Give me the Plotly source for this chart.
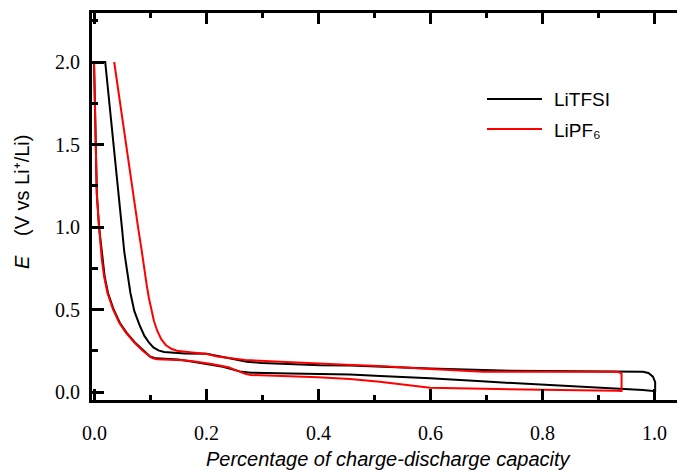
import plotly.graph_objects as go

# ---- data ----
# LiTFSI: closed charge/discharge loop (x = fraction of capacity, E in V vs Li+/Li)
litfsi_x = [0.0, 0.002, 0.005, 0.009, 0.012, 0.015, 0.019, 0.025, 0.035, 0.046, 0.058, 0.073,
            0.088, 0.1, 0.11, 0.13, 0.15, 0.177, 0.2, 0.23, 0.26, 0.28, 0.35, 0.404, 0.457,
            0.511, 0.55, 0.6, 0.7, 0.8, 0.933, 0.98, 1.002, 1.002, 0.998, 0.99, 0.98, 0.9,
            0.743, 0.6, 0.511, 0.457, 0.404, 0.35, 0.3, 0.273, 0.24, 0.201, 0.162, 0.139,
            0.125, 0.115, 0.106, 0.098, 0.09, 0.082, 0.072, 0.065, 0.058, 0.054, 0.05, 0.02,
            0.0]
litfsi_e = [2.0, 1.6, 1.2, 1.0, 0.9, 0.8, 0.7, 0.6, 0.5, 0.42, 0.36, 0.3, 0.25, 0.215, 0.204,
            0.2, 0.197, 0.184, 0.17, 0.153, 0.125, 0.117, 0.112, 0.109, 0.106, 0.097, 0.092,
            0.083, 0.063, 0.046, 0.022, 0.012, 0.005, 0.06, 0.093, 0.115, 0.123, 0.124, 0.129,
            0.142, 0.153, 0.16, 0.162, 0.168, 0.175, 0.184, 0.205, 0.232, 0.234, 0.237, 0.242,
            0.252, 0.27, 0.3, 0.34, 0.4, 0.49, 0.6, 0.75, 0.85, 0.99, 2.0, 2.0]

# LiPF6: open loop starting at 2.0 V on the left and ending at 2.0 V
lipf6_x = [0.0, 0.002, 0.005, 0.009, 0.011, 0.014, 0.018, 0.024, 0.034, 0.045, 0.057, 0.072,
           0.087, 0.097, 0.104, 0.112, 0.14, 0.16, 0.18, 0.21, 0.24, 0.27, 0.28, 0.4, 0.457,
           0.51, 0.6, 0.7, 0.8, 0.933, 0.942, 0.942, 0.938, 0.93, 0.8, 0.695, 0.6, 0.51, 0.45,
           0.4, 0.3, 0.27, 0.22, 0.2, 0.175, 0.16, 0.148, 0.138, 0.128, 0.12, 0.113, 0.107,
           0.102, 0.098, 0.094, 0.09, 0.085, 0.079, 0.036]
lipf6_e = [2.0, 1.6, 1.2, 1.0, 0.9, 0.8, 0.7, 0.6, 0.5, 0.42, 0.36, 0.3, 0.25, 0.22, 0.205,
           0.198, 0.195, 0.193, 0.185, 0.17, 0.15, 0.11, 0.103, 0.09, 0.079, 0.062, 0.026,
           0.018, 0.013, 0.008, 0.006, 0.11, 0.12, 0.123, 0.123, 0.123, 0.139, 0.158, 0.165,
           0.174, 0.19, 0.194, 0.215, 0.232, 0.24, 0.244, 0.25, 0.262, 0.285, 0.32, 0.37,
           0.43, 0.5, 0.57, 0.65, 0.75, 0.86, 0.99, 2.0]

series_names = ["LiTFSI", "LiPF\u2086"]
series_colors = ["#000000", "#ff0000"]

x_ticks = [0.0, 0.2, 0.4, 0.6, 0.8, 1.0]
y_ticks = [0.0, 0.5, 1.0, 1.5, 2.0]
x_range = [-0.0036, 1.041]
y_range = [-0.0485, 2.297]

x_title = "Percentage of charge-discharge capacity"
y_title_symbol = "E"
y_title_rest = "(V vs Li\u207a/Li)"

W, H = 677, 470
ML, MR, MT, MB = 92, 0, 13, 70
PW, PH = W - ML - MR, H - MT - MB


def px_x(p):
    return (p - ML) / PW


def px_y(p):
    return (H - MB - p) / PH


fig = go.Figure()
fig.add_trace(go.Scatter(x=litfsi_x, y=litfsi_e, mode="lines", name=series_names[0],
                         line=dict(color=series_colors[0], width=2), showlegend=False))
fig.add_trace(go.Scatter(x=lipf6_x, y=lipf6_e, mode="lines", name=series_names[1],
                         line=dict(color=series_colors[1], width=2), showlegend=False))

serif = dict(family="Liberation Serif", size=20, color="black")
sans = dict(family="Liberation Sans", size=20, color="black")

fig.update_layout(
    width=W, height=H,
    margin=dict(l=ML, r=MR, t=MT, b=MB),
    plot_bgcolor="white",
    xaxis=dict(range=x_range, tickvals=x_ticks, showticklabels=False,
               ticks="inside", ticklen=11, tickwidth=2.5, tickcolor="black",
               showline=True, linewidth=3, linecolor="black", mirror="ticks",
               showgrid=False, zeroline=False,
               minor=dict(dtick=0.1, ticks="inside", ticklen=5, tickcolor="black")),
    yaxis=dict(range=y_range, tickvals=y_ticks, ticktext=[f"{v:.1f} " for v in y_ticks],
               ticks="inside", ticklen=12, tickwidth=2.5, tickcolor="black",
               showline=True, linewidth=3, linecolor="black",
               showgrid=False, zeroline=False, tickfont=serif,
               minor=dict(dtick=0.25, ticks="inside", ticklen=6, tickcolor="black")),
)

# x tick labels, placed through the x scale
for v in x_ticks:
    fig.add_annotation(text=f"{v:.1f}", xref="x", yref="paper", x=v, y=px_y(433),
                       xanchor="center", yanchor="middle", showarrow=False, font=serif)

# axis titles (plain text, italic via font style)
fig.add_annotation(text=x_title, xref="paper", yref="paper", x=px_x(388), y=px_y(459),
                   xanchor="center", yanchor="middle", showarrow=False,
                   font=dict(family="Liberation Sans", size=20, color="black",
                             style="italic"))
fig.add_annotation(text=y_title_symbol, xref="paper", yref="paper", x=px_x(22), y=px_y(262),
                   xanchor="center", yanchor="middle", showarrow=False, textangle=-90,
                   font=dict(family="Liberation Sans", size=20, color="black",
                             style="italic"))
fig.add_annotation(text=y_title_rest, xref="paper", yref="paper", x=px_x(22), y=px_y(186),
                   xanchor="center", yanchor="middle", showarrow=False, textangle=-90,
                   font=sans)

# legend (drawn manually to match the long line samples)
legend_rows = [99, 129]
for name, color, row in zip(series_names, series_colors, legend_rows):
    fig.add_shape(type="line", xref="paper", yref="paper", x0=px_x(487), x1=px_x(542),
                  y0=px_y(row), y1=px_y(row), line=dict(color=color, width=2))
    fig.add_annotation(text=name, xref="paper", yref="paper", x=px_x(552), y=px_y(row + 1),
                       xanchor="left", yanchor="middle", showarrow=False,
                       font=dict(family="Liberation Sans", size=19, color="black"))

fig.write_html("out.html")
